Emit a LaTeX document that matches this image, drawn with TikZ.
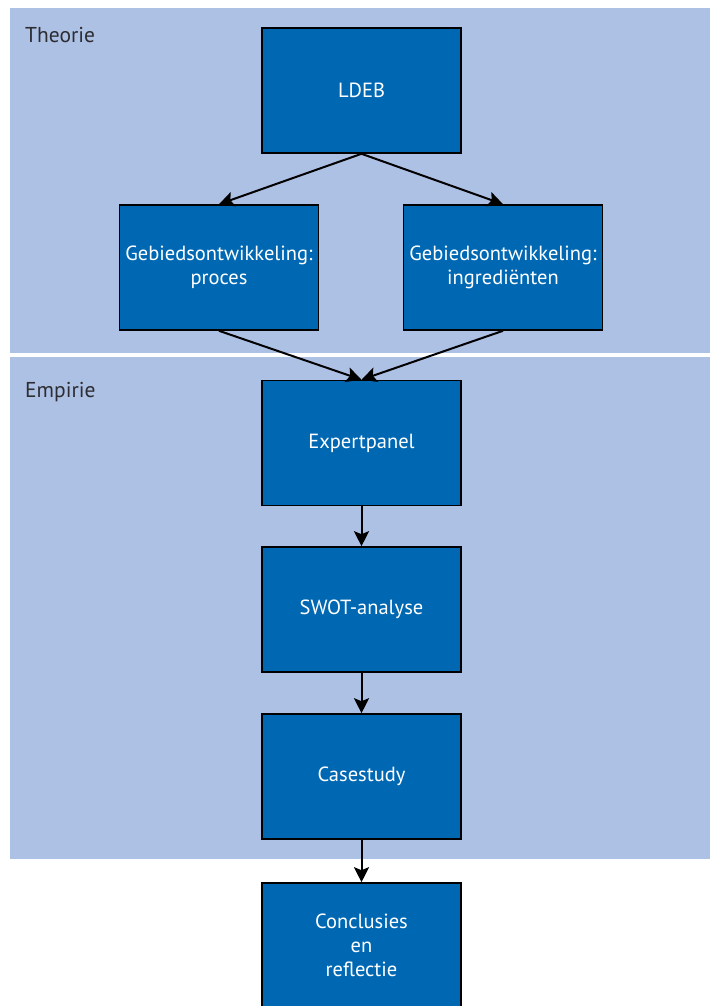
\documentclass[tikz,border=0pt]{standalone}
\usepackage{fontspec}
\setmainfont{PT Sans}
\usetikzlibrary{arrows.meta}
\definecolor{panelblue}{RGB}{173,193,229}
\definecolor{boxblue}{RGB}{0,104,179}
\definecolor{labelgray}{RGB}{45,45,50}
\tikzset{
  x=1pt, y=-1pt,
  panel/.style={fill=panelblue, draw=none},
  stepbox/.style={draw=black, line width=1.6pt, fill=boxblue, text=white,
    minimum width=199pt, minimum height=125pt, inner sep=0pt, align=center,
    font=\fontsize{20.5}{24}\selectfont},
  paneltitle/.style={anchor=base west, text=labelgray, inner sep=0pt,
    font=\fontsize{21.5}{24}\selectfont},
  flow/.style={draw=black, line width=2pt,
    -{Stealth[length=15pt, width=15pt, inset=3pt]}}
}
\begin{document}
\begin{tikzpicture}
  \useasboundingbox (0,0) rectangle (710,1006);
  % background bands
  \fill[white] (0,0) rectangle (710,1006);
  \path[panel] (10,8) rectangle (710,353);
  \path[panel] (10,357) rectangle (710,859);
  \node[paneltitle] (theorie) at (25,43) {Theorie};
  \node[paneltitle] (empirie) at (25,397) {Empirie};

  % steps
  \node[stepbox] (ldeb)   at (361.5,90.5)  {LDEB};
  \node[stepbox] (proces) at (219,267.5)   {Gebiedsontwikkeling:\\proces};
  \node[stepbox] (ingr)   at (503,267.5)   {Gebiedsontwikkeling:\\ingrediënten};
  \node[stepbox] (expert) at (361.5,443)   {Expertpanel};
  \node[stepbox] (swot)   at (361.5,609.5) {SWOT-analyse};
  \node[stepbox] (case)   at (361.5,776.5) {Casestudy};
  \node[stepbox] (concl)  at (361.5,945.5) {Conclusies\\en\\reflectie};

  % connectors
  \draw[flow] (ldeb.south) -- (proces.north);
  \draw[flow] (ldeb.south) -- (ingr.north);
  \draw[flow] (proces.south) -- (expert.north);
  \draw[flow] (ingr.south) -- (expert.north);
  \draw[flow] (expert) -- (swot);
  \draw[flow] (swot) -- (case);
  \draw[flow] (case) -- (concl);
\end{tikzpicture}
\end{document}
